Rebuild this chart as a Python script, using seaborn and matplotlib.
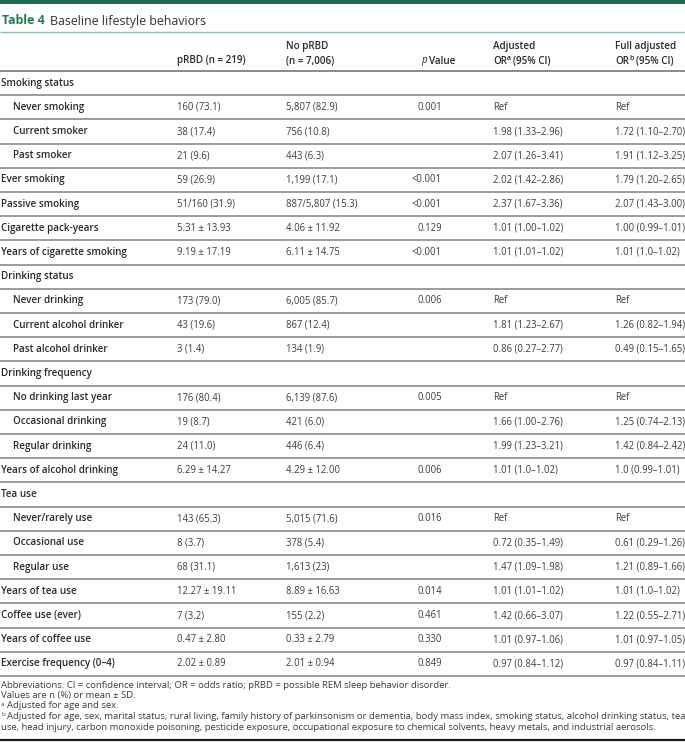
import numpy as np
import pandas as pd
import matplotlib
matplotlib.use("Agg")
import matplotlib.pyplot as plt
import seaborn as sns

# table content
row_labels = [
    "Smoking status", "Never smoking", "Current smoker", "Past smoker",
    "Ever smoking", "Passive smoking", "Cigarette pack-years", "Years of cigarette smoking",
    "Drinking status", "Never drinking", "Current alcohol drinker", "Past alcohol drinker",
    "Drinking frequency", "No drinking last year", "Occasional drinking", "Regular drinking",
    "Years of alcohol drinking",
    "Tea use", "Never/rarely use", "Occasional use", "Regular use",
    "Years of tea use", "Coffee use (ever)", "Years of coffee use", "Exercise frequency (0–4)",
]
row_indent = [0, 1, 1, 1, 0, 0, 0, 0,
              0, 1, 1, 1,
              0, 1, 1, 1, 0,
              0, 1, 1, 1,
              0, 0, 0, 0]
prbd = ["", "160 (73.1)", "38 (17.4)", "21 (9.6)", "59 (26.9)", "51/160 (31.9)",
        "5.31 ± 13.93", "9.19 ± 17.19",
        "", "173 (79.0)", "43 (19.6)", "3 (1.4)",
        "", "176 (80.4)", "19 (8.7)", "24 (11.0)", "6.29 ± 14.27",
        "", "143 (65.3)", "8 (3.7)", "68 (31.1)",
        "12.27 ± 19.11", "7 (3.2)", "0.47 ± 2.80", "2.02 ± 0.89"]
no_prbd = ["", "5,807 (82.9)", "756 (10.8)", "443 (6.3)", "1,199 (17.1)", "887/5,807 (15.3)",
           "4.06 ± 11.92", "6.11 ± 14.75",
           "", "6,005 (85.7)", "867 (12.4)", "134 (1.9)",
           "", "6,139 (87.6)", "421 (6.0)", "446 (6.4)", "4.29 ± 12.00",
           "", "5,015 (71.6)", "378 (5.4)", "1,613 (23)",
           "8.89 ± 16.63", "155 (2.2)", "0.33 ± 2.79", "2.01 ± 0.94"]
p_values = ["", "0.001", "", "", "<0.001", "<0.001", "0.129", "<0.001",
            "", "0.006", "", "",
            "", "0.005", "", "", "0.006",
            "", "0.016", "", "",
            "0.014", "0.461", "0.330", "0.849"]
adj_or = ["", "Ref", "1.98 (1.33–2.96)", "2.07 (1.26–3.41)", "2.02 (1.42–2.86)",
          "2.37 (1.67–3.36)", "1.01 (1.00–1.02)", "1.01 (1.01–1.02)",
          "", "Ref", "1.81 (1.23–2.67)", "0.86 (0.27–2.77)",
          "", "Ref", "1.66 (1.00–2.76)", "1.99 (1.23–3.21)", "1.01 (1.0–1.02)",
          "", "Ref", "0.72 (0.35–1.49)", "1.47 (1.09–1.98)",
          "1.01 (1.01–1.02)", "1.42 (0.66–3.07)", "1.01 (0.97–1.06)", "0.97 (0.84–1.12)"]
full_or = ["", "Ref", "1.72 (1.10–2.70)", "1.91 (1.12–3.25)", "1.79 (1.20–2.65)",
           "2.07 (1.43–3.00)", "1.00 (0.99–1.01)", "1.01 (1.0–1.02)",
           "", "Ref", "1.26 (0.82–1.94)", "0.49 (0.15–1.65)",
           "", "Ref", "1.25 (0.74–2.13)", "1.42 (0.84–2.42)", "1.0 (0.99–1.01)",
           "", "Ref", "0.61 (0.29–1.26)", "1.21 (0.89–1.66)",
           "1.01 (1.0–1.02)", "1.22 (0.55–2.71)", "1.01 (0.97–1.05)", "0.97 (0.84–1.11)"]

footnotes = [
    "Abbreviations: CI = confidence interval; OR = odds ratio; pRBD = possible REM sleep behavior disorder.",
    "Values are n (%) or mean ± SD.",
]
note_a = "Adjusted for age and sex."
note_b = ["Adjusted for age, sex, marital status, rural living, family history of parkinsonism or dementia, body mass index, smoking status, alcohol drinking status, tea",
          "use, head injury, carbon monoxide poisoning, pesticide exposure, occupational exposure to chemical solvents, heavy metals, and industrial aerosols."]

df = pd.DataFrame({"label": row_labels, "indent": row_indent, "prbd": prbd,
                   "no_prbd": no_prbd, "p": p_values, "adj": adj_or, "full": full_or})

sns.set_theme(style="white")
plt.rcParams["font.family"] = ["Open Sans", "DejaVu Sans"]

W, H = 685, 742
fig = plt.figure(figsize=(W / 100, H / 100), dpi=100)
ax = fig.add_axes([0, 0, 1, 1])
ax.set_xlim(0, W)
ax.set_ylim(H, 0)
ax.axis("off")
renderer = fig.canvas.get_renderer()

GREEN = "#1e6e4b"
TXT = "#2b2b2b"
VAL = "#3d3d3d"
LINE = "#9c9c9c"
FS = 7.1
FV = 6.85


def runs(x, y, parts):
    # parts: (text, fontsize, weight, style, color, dy, gap_after)
    cur = x
    for text, fs, wt, st, col, dy, gap in parts:
        t = ax.text(cur, y + dy, text, fontsize=fs, fontweight=wt, fontstyle=st,
                    color=col, va="baseline", ha="left")
        cur += t.get_window_extent(renderer).width + gap
    return cur


# top bar + title
ax.axhspan(0, 4, color=GREEN, lw=0)
TS = 8.9
end = runs(2.5, 24.5, [("Table 4", TS, "bold", "normal", "#237a52", 0, 0)])
runs(end + 5, 24.5, [("Baseline lifestyle behaviors", TS, "normal", "normal", "#333333", 0, 0)])
ax.hlines(32, 0, W, color="#8fc2a8", lw=1.0)

# column header
col_x = {"prbd": 177, "no_prbd": 286, "p": 442, "adj": 493, "full": 615}
b1, b2 = 49.5, 63.5
runs(col_x["prbd"], b2, [("pRBD (n = 219)", FS, "semibold", "normal", TXT, 0, 0)])
runs(col_x["no_prbd"], b1, [("No pRBD", FS, "semibold", "normal", TXT, 0, 0)])
runs(col_x["no_prbd"], b2, [("(n = 7,006)", FS, "semibold", "normal", TXT, 0, 0)])
runs(421, b2, [("p", FS, "normal", "italic", TXT, 0, 2.3), ("Value", FS, "semibold", "normal", TXT, 0, 0)])
for key, line1, sup in [("adj", "Adjusted", "a"), ("full", "Full adjusted", "b")]:
    runs(col_x[key], b1, [(line1, FS, "semibold", "normal", TXT, 0, 0)])
    runs(col_x[key], b2, [("OR", FS, "semibold", "normal", TXT, 0, 0.2),
                          (sup, 5.0, "semibold", "normal", TXT, -3.5, 2.0),
                          ("(95% CI)", FS, "semibold", "normal", TXT, 0, 0)])

# body rows
top, pitch = 71.0, 24.2
ax.hlines(top, 0, W, color="#8a8a8a", lw=1.4)
for i, r in df.iterrows():
    yc = top + pitch * (i + 0.5)
    ax.text(1 + 12 * r["indent"], yc, r["label"], fontsize=FS, fontweight="semibold",
            color=TXT, va="center", ha="left")
    for key in ["prbd", "no_prbd", "adj", "full"]:
        ax.text(col_x[key], yc, r[key], fontsize=FV, color=VAL, va="center", ha="left")
    ax.text(col_x["p"], yc, r["p"], fontsize=FV, color=VAL, va="center", ha="right")
    ax.hlines(top + pitch * (i + 1), 0, W, color=LINE, lw=1.4)

# footnotes
FN = 6.8
fy = [687.5, 698, 708.5, 719, 729.5]
for k, line in enumerate(footnotes):
    runs(1, fy[k], [(line, FN, "normal", "normal", VAL, 0, 0)])
runs(1, fy[2], [("a", 4.6, "normal", "normal", VAL, -3, 2.2), (note_a, FN, "normal", "normal", VAL, 0, 0)])
runs(1, fy[3], [("b", 4.6, "normal", "normal", VAL, -3, 2.2), (note_b[0], FN, "normal", "normal", VAL, 0, 0)])
runs(1, fy[4], [(note_b[1], FN, "normal", "normal", VAL, 0, 0)])
ax.hlines(740, 0, W, color="#1a1a1a", lw=1.6)

fig.savefig("out.png", dpi=100)
